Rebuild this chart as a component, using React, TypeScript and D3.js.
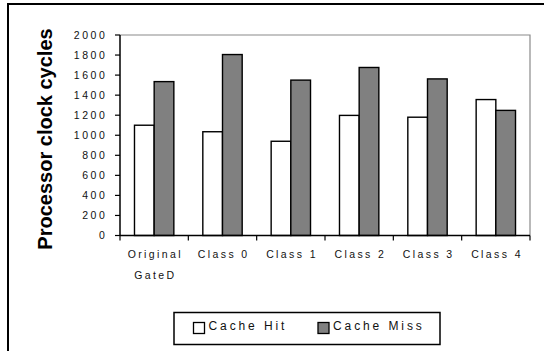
import React from "react";
import * as d3 from "d3";

const categories = ["Original GateD", "Class 0", "Class 1", "Class 2", "Class 3", "Class 4"];
const cacheHit = [1100, 1035, 940, 1198, 1180, 1356];
const cacheMiss = [1535, 1805, 1550, 1676, 1562, 1248];
const yTicks = [0, 200, 400, 600, 800, 1000, 1200, 1400, 1600, 1800, 2000];
const seriesNames = ["Cache Hit", "Cache Miss"];
const seriesColors = ["#ffffff", "#808080"];

export default function App() {
  const W = 544, H = 351;
  const left = 120, right = 530, top = 35, bottom = 235.5;
  const x = d3.scaleBand<string>().domain(categories).range([left, right]).padding(0);
  const y = d3.scaleLinear().domain([0, 2000]).range([bottom, top]);
  const bw = x.bandwidth();
  const barW = bw * 0.288;
  const font = "Liberation Sans, Arial, sans-serif";
  const series = [cacheHit, cacheMiss];
  const boundaries = [...categories.map((c) => x(c) as number), right];

  return (
    <svg width={W} height={H} style={{ position: "absolute", left: 0, top: 0 }} fontFamily={font}>
      <rect x={0} y={0} width={W} height={H} fill="#fff" />
      {/* outer frame */}
      <path d={`M8,${H + 5} L8,4 L${W + 5},4`} fill="none" stroke="#000" strokeWidth={2} />
      {/* plot frame top/right */}
      <path d={`M${left},${top} L${right},${top} L${right},${bottom}`} fill="none" stroke="#8a8a8a" strokeWidth={1.2} />
      {/* bars */}
      {categories.map((c, i) => {
        const cx = (x(c) as number) + bw / 2;
        return series.map((s, j) => (
          <rect
            key={c + j}
            x={cx - barW + j * barW}
            y={y(s[i])}
            width={barW}
            height={bottom - y(s[i])}
            fill={seriesColors[j]}
            stroke="#000"
            strokeWidth={1.4}
          />
        ));
      })}
      {/* y axis */}
      <line x1={left} x2={left} y1={top} y2={bottom} stroke="#000" strokeWidth={1.5} />
      {yTicks.map((t) => (
        <g key={t}>
          <line x1={left - 5} x2={left} y1={y(t)} y2={y(t)} stroke="#000" strokeWidth={1.2} />
          <text x={107.5} y={y(t) + 3.6} textAnchor="end" fontSize={10.5} letterSpacing={2.6} fill="#111">
            {t}
          </text>
        </g>
      ))}
      {/* x axis */}
      <line x1={left} x2={right} y1={bottom} y2={bottom} stroke="#000" strokeWidth={1.5} />
      {boundaries.map((b, i) => (
        <line key={i} x1={b} x2={b} y1={bottom} y2={bottom + 5} stroke="#000" strokeWidth={1.2} />
      ))}
      {categories.map((c) => {
        const cx = (x(c) as number) + bw / 2;
        const parts = c === "Original GateD" ? ["Original", "GateD"] : [c];
        return parts.map((p, k) => (
          <text key={c + k} x={cx + 1.2} y={258 + k * 21} textAnchor="middle" fontSize={10.5} letterSpacing={2.4} fill="#111">
            {p}
          </text>
        ));
      })}
      {/* y title */}
      <text
        transform={`translate(52,139) rotate(-90)`}
        textAnchor="middle"
        fontSize={20}
        fontWeight="bold"
        fill="#000"
      >
        Processor clock cycles
      </text>
      {/* legend */}
      <rect x={174} y={312.5} width={266} height={32} fill="#fff" stroke="#000" strokeWidth={1.5} />
      {seriesNames.map((n, j) => {
        const lx = j === 0 ? 193.5 : 318;
        return (
          <g key={n}>
            <rect x={lx} y={322.5} width={11} height={11} fill={seriesColors[j]} stroke="#000" strokeWidth={1.3} />
            <text x={lx + 15} y={329.5} fontSize={12} letterSpacing={2.9} fill="#111">
              {n}
            </text>
          </g>
        );
      })}
    </svg>
  );
}
